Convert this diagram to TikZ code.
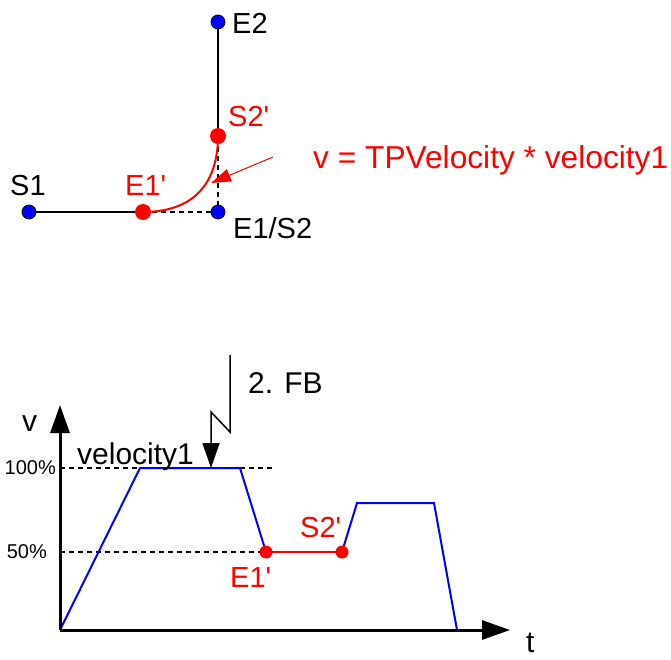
\documentclass[tikz,border=0pt]{standalone}
\usepackage{fontspec}
\setmainfont{Liberation Sans}[Ligatures=TeXOff]
\usetikzlibrary{arrows.meta,backgrounds}
\newcommand\myapos{\char"0027\relax}
\begin{document}
\begin{tikzpicture}[x=1pt,y=-1pt,
  bdot/.style={circle,fill=blue,draw=black,line width=0.8pt,minimum size=14pt,inner sep=0pt},
  rdot/.style={circle,fill=red,minimum size=16pt,inner sep=0pt},
  rsdot/.style={circle,fill=red,minimum size=13pt,inner sep=0pt},
  lbl/.style={inner sep=0pt,anchor=base west,font=\fontsize{29}{34}\selectfont},
  pct/.style={inner sep=0pt,anchor=east,font=\fontsize{20}{24}\selectfont},
  mydash/.style={dash pattern=on 5pt off 4pt,line width=1.2pt},
  seg/.style={line width=1.5pt},
  curve/.style={red,line width=2pt},
  prof/.style={blue,line width=2pt},
  axis/.style={line width=3pt,-{Triangle[length=28pt,width=19pt]}}]
\useasboundingbox (0,0) rectangle (671,659);

% ---------- top: path geometry ----------
\node[bdot] (E2) at (218,22) {};
\node[bdot] (S1) at (29,212) {};
\node[bdot] (E1S2) at (218,212) {};
\node[rdot] (E1p) at (143,212) {};
\node[rdot] (S2p) at (218,136) {};
\begin{scope}[on background layer]
  \draw[seg] (S1.center) -- (E1p.center);
  \draw[seg] (E2.center) -- (S2p.center);
  \draw[mydash] (E1p.center) -- (E1S2.center) -- (S2p.center);
  \draw[curve] (E1p.center) .. controls (195,212) and (218,182) .. (S2p.center);
\end{scope}
\coordinate (arrS) at (273,157);
\coordinate (arrT) at (211,183);
\draw[red,line width=1pt,-{Triangle[length=20pt,width=13pt]}] (arrS) -- (arrT);

\node[lbl] (tE2) at (232,33) {E2};
\node[lbl,red] (tS2p) at (228,126) {S2\myapos};
\node[lbl] (tS1) at (10,195) {S1};
\node[lbl,red] (tE1p) at (125,195) {E1\myapos};
\node[lbl] (tE1S2) at (233,238) {E1/S2};
\node[lbl,red,font=\fontsize{31.7}{36}\selectfont] (tv) at (313,168) {v = TPVelocity * velocity1};

% ---------- bottom: velocity profile ----------
\coordinate (O) at (60,630);
\coordinate (Ytip) at (60,405);
\coordinate (Xtip) at (510,630);
\coordinate (y100) at (60,468);
\coordinate (y50) at (60,552);
\coordinate (d100end) at (275,468);
\coordinate (p1) at (140,468);
\coordinate (p2) at (240,468);
\node[rsdot] (bE1p) at (266,552) {};
\node[rsdot] (bS2p) at (342,552) {};
\coordinate (p3) at (357,503);
\coordinate (p4) at (434,503);
\coordinate (p5) at (457,630);

\begin{scope}[on background layer]
  \draw[mydash] (y100) -- (d100end);
  \draw[mydash] (y50) -- (bE1p.center);
  \draw[prof] (O) -- (p1) -- (p2) -- (bE1p.center);
  \draw[red,line width=1.8pt] (bE1p.center) -- (bS2p.center);
  \draw[prof] (bS2p.center) -- (p3) -- (p4) -- (p5);
\end{scope}
\draw[axis] (O) -- (Ytip);
\draw[axis] (O) -- (Xtip);

% lightning arrow "2. FB"
\coordinate (f1) at (230,355);
\coordinate (f2) at (230,432);
\coordinate (f3) at (211,412);
\coordinate (f4) at (211,468);
\draw[line width=1.5pt,-{Triangle[length=25pt,width=17pt]}] (f1) -- (f2) -- (f3) -- (f4);

\node[lbl,font=\fontsize{30}{36}\selectfont] (tFB) at (248,393) {2. FB};
\node[lbl,font=\fontsize{30}{36}\selectfont] (tv2) at (22,431) {v};
\node[lbl,font=\fontsize{30}{36}\selectfont] (tvel) at (77,464) {velocity1};
\node[pct] (t100) at (56,468) {100\%};
\node[pct] (t50) at (47,552) {50\%};
\node[lbl,red] (tbE1p) at (230,587) {E1\myapos};
\node[lbl,red] (tbS2p) at (300,537) {S2\myapos};
\node[lbl,font=\fontsize{30}{36}\selectfont] (tt) at (526,652) {t};
\end{tikzpicture}
\end{document}
